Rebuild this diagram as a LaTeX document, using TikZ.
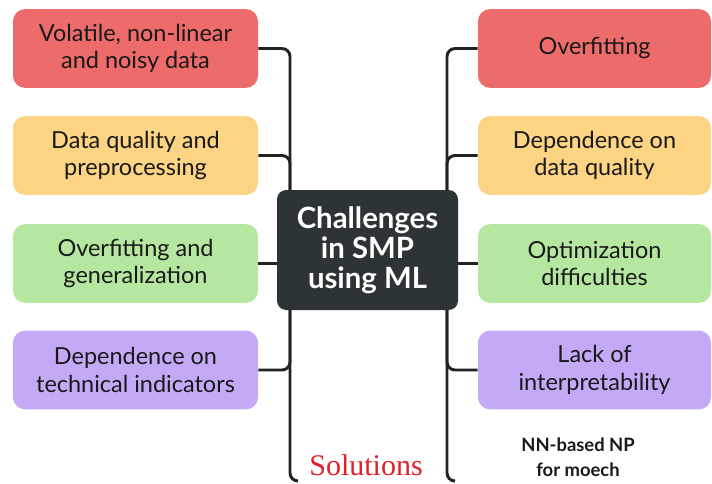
\documentclass[tikz,border=0pt]{standalone}
\usepackage{fontspec}
\setmainfont{Lato}
\newfontfamily\serifsol{Liberation Serif}
\usetikzlibrary{calc}
\definecolor{cred}{HTML}{EE6B6B}
\definecolor{corange}{HTML}{FDD384}
\definecolor{cgreen}{HTML}{B6E7A0}
\definecolor{cpurple}{HTML}{C4A9F6}
\definecolor{cdark}{HTML}{2D3436}
\definecolor{cline}{HTML}{222222}
\definecolor{solred}{HTML}{E0202A}
\tikzset{
  box/.style={rounded corners=9pt, minimum height=59pt, align=center, inner sep=2pt,
    font=\fontsize{17.6}{20.5}\selectfont, text=black!90},
  lbox/.style={box, minimum width=183.75pt},
  rbox/.style={box, minimum width=174.75pt},
  conn/.style={draw=cline, line width=2.2pt, rounded corners=6pt},
}
\begin{document}
\begin{tikzpicture}[x=0.75pt,y=-0.75pt]
\useasboundingbox (0,0) rectangle (712,483);
\fill[white] (0,0) rectangle (712,483);
% center
\node[fill=cdark, rounded corners=7pt, minimum width=135.75pt, minimum height=90pt, align=center,
  text=white, font=\bfseries\fontsize{22}{22.5}\selectfont] (c) at (367.5,250) {Challenges\\in SMP\\using ML};
% left
\node[lbox, fill=cred] (l1) at (135.5,48.5) {Volatile, non-linear\\and noisy data};
\node[lbox, fill=corange] (l2) at (135.5,155.5) {Data quality and\\preprocessing};
\node[lbox, fill=cgreen] (l3) at (135.5,263.5) {Overfitting and\\generalization};
\node[lbox, fill=cpurple] (l4) at (135.5,370) {Dependence on\\technical indicators};
% right
\node[rbox, fill=cred] (r1) at (594.5,48.5) {Overfitting};
\node[rbox, fill=corange] (r2) at (594.5,155.5) {Dependence on\\data quality};
\node[rbox, fill=cgreen] (r3) at (594.5,263.5) {Optimization\\difficulties};
\node[rbox, fill=cpurple] (r4) at (594.5,370) {Lack of\\interpretability};
% bottom texts
\node[text=solred, font=\serifsol\fontsize{22.5}{24}\selectfont] (sol) at (366,465) {Solutions};
\node[align=center, font=\bfseries\fontsize{13.8}{18.5}\selectfont, text=black!90] (nn) at (578,457) {NN-based NP\\for moech};
% coordinates
\coordinate (ltop) at (290,190);
\coordinate (lbot) at (290,310);
\coordinate (lend) at (298,481);
\coordinate (rtop) at (447,190);
\coordinate (rbot) at (447,310);
\coordinate (rend) at (455,481);
% connectors left
\draw[conn] (l1.east) -| (ltop);
\draw[conn] (l2.east) -| (ltop);
\draw[conn] (l3.east) -- (l3.east -| c.west);
\draw[conn] (l4.east) -| (lbot);
\draw[conn] (lbot) |- (lend);
% connectors right
\draw[conn] (r1.west) -| (rtop);
\draw[conn] (r2.west) -| (rtop);
\draw[conn] (r3.west) -- (r3.west -| c.east);
\draw[conn] (r4.west) -| (rbot);
\draw[conn] (rbot) |- (rend);
\end{tikzpicture}
\end{document}
